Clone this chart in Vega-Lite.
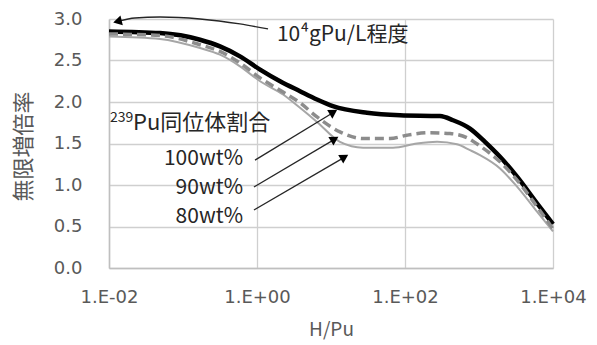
{
  "$schema": "https://vega.github.io/schema/vega-lite/v6.json",
  "width": 444,
  "height": 249,
  "autosize": {"type": "none"},
  "padding": {"left": 109, "top": 19, "right": 44, "bottom": 77},
  "background": "white",
  "config": {
    "view": {"stroke": null},
    "font": "Noto Sans CJK JP",
    "axis": {"labelFont": "DejaVu Sans", "titleFont": "Noto Sans CJK JP"}
  },
  "datasets": {
    "curves": [
      {"series": "100wt%", "HPu": 0.01, "k": 2.85},
      {"series": "100wt%", "HPu": 0.0489, "k": 2.83},
      {"series": "100wt%", "HPu": 0.170, "k": 2.75},
      {"series": "100wt%", "HPu": 0.316, "k": 2.67},
      {"series": "100wt%", "HPu": 0.589, "k": 2.55},
      {"series": "100wt%", "HPu": 1.10, "k": 2.39},
      {"series": "100wt%", "HPu": 2.05, "k": 2.25},
      {"series": "100wt%", "HPu": 3.81, "k": 2.13},
      {"series": "100wt%", "HPu": 6.47, "k": 2.03},
      {"series": "100wt%", "HPu": 10.6, "k": 1.95},
      {"series": "100wt%", "HPu": 30.6, "k": 1.87},
      {"series": "100wt%", "HPu": 85.5, "k": 1.84},
      {"series": "100wt%", "HPu": 297, "k": 1.83},
      {"series": "100wt%", "HPu": 446, "k": 1.78},
      {"series": "100wt%", "HPu": 755, "k": 1.68},
      {"series": "100wt%", "HPu": 1205, "k": 1.52},
      {"series": "100wt%", "HPu": 1923, "k": 1.34},
      {"series": "100wt%", "HPu": 3266, "k": 1.10},
      {"series": "100wt%", "HPu": 6081, "k": 0.78},
      {"series": "100wt%", "HPu": 10000, "k": 0.53},
      {"series": "90wt%", "HPu": 0.01, "k": 2.82},
      {"series": "90wt%", "HPu": 0.0489, "k": 2.80},
      {"series": "90wt%", "HPu": 0.170, "k": 2.69},
      {"series": "90wt%", "HPu": 0.316, "k": 2.61},
      {"series": "90wt%", "HPu": 0.589, "k": 2.47},
      {"series": "90wt%", "HPu": 1.10, "k": 2.29},
      {"series": "90wt%", "HPu": 2.25, "k": 2.12},
      {"series": "90wt%", "HPu": 3.81, "k": 1.99},
      {"series": "90wt%", "HPu": 6.47, "k": 1.82},
      {"series": "90wt%", "HPu": 13.2, "k": 1.64},
      {"series": "90wt%", "HPu": 27.1, "k": 1.56},
      {"series": "90wt%", "HPu": 62.7, "k": 1.56},
      {"series": "90wt%", "HPu": 106, "k": 1.60},
      {"series": "90wt%", "HPu": 218, "k": 1.63},
      {"series": "90wt%", "HPu": 406, "k": 1.62},
      {"series": "90wt%", "HPu": 689, "k": 1.57},
      {"series": "90wt%", "HPu": 1032, "k": 1.47},
      {"series": "90wt%", "HPu": 1923, "k": 1.28},
      {"series": "90wt%", "HPu": 3266, "k": 1.06},
      {"series": "90wt%", "HPu": 6081, "k": 0.74},
      {"series": "90wt%", "HPu": 10000, "k": 0.47},
      {"series": "80wt%", "HPu": 0.01, "k": 2.79},
      {"series": "80wt%", "HPu": 0.0489, "k": 2.76},
      {"series": "80wt%", "HPu": 0.170, "k": 2.65},
      {"series": "80wt%", "HPu": 0.316, "k": 2.57},
      {"series": "80wt%", "HPu": 0.589, "k": 2.43},
      {"series": "80wt%", "HPu": 1.10, "k": 2.25},
      {"series": "80wt%", "HPu": 2.25, "k": 2.09},
      {"series": "80wt%", "HPu": 3.81, "k": 1.93},
      {"series": "80wt%", "HPu": 6.47, "k": 1.76},
      {"series": "80wt%", "HPu": 13.2, "k": 1.52},
      {"series": "80wt%", "HPu": 27.1, "k": 1.45},
      {"series": "80wt%", "HPu": 68.9, "k": 1.45},
      {"series": "80wt%", "HPu": 145, "k": 1.50},
      {"series": "80wt%", "HPu": 271, "k": 1.52},
      {"series": "80wt%", "HPu": 504, "k": 1.49},
      {"series": "80wt%", "HPu": 755, "k": 1.42},
      {"series": "80wt%", "HPu": 1032, "k": 1.36},
      {"series": "80wt%", "HPu": 1923, "k": 1.20},
      {"series": "80wt%", "HPu": 3266, "k": 0.98},
      {"series": "80wt%", "HPu": 6081, "k": 0.68},
      {"series": "80wt%", "HPu": 10000, "k": 0.44}
    ],
    "arrows": [
      {"arrow": "a1", "HPu": 0.94, "k": 1.30},
      {"arrow": "a1", "HPu": 10.6, "k": 1.87},
      {"arrow": "a2", "HPu": 0.91, "k": 0.976},
      {"arrow": "a2", "HPu": 11.0, "k": 1.546},
      {"arrow": "a3", "HPu": 0.91, "k": 0.699},
      {"arrow": "a3", "HPu": 14.9, "k": 1.33},
      {"arrow": "top", "HPu": 1.41, "k": 2.88},
      {"arrow": "top", "HPu": 0.589, "k": 2.94},
      {"arrow": "top", "HPu": 0.170, "k": 3.00},
      {"arrow": "top", "HPu": 0.0489, "k": 3.024},
      {"arrow": "top", "HPu": 0.0224, "k": 3.012},
      {"arrow": "top", "HPu": 0.0135, "k": 2.975}
    ],
    "heads": [
      {"HPu": 10.8, "k": 1.878, "angle": 58.6},
      {"HPu": 11.2, "k": 1.554, "angle": 59.2},
      {"HPu": 15.2, "k": 1.337, "angle": 59.7},
      {"HPu": 0.0130, "k": 2.97, "angle": 256}
    ],
    "rightLabels": [
      {"HPu": 0.647, "k": 1.31, "text": "100wt%"},
      {"HPu": 0.647, "k": 0.96, "text": "90wt%"},
      {"HPu": 0.647, "k": 0.61, "text": "80wt%"}
    ],
    "leftLabels": [
      {"HPu": 1.86, "k": 2.81, "text": "10⁴gPu/L程度"}
    ],
    "isoLabel": [
      {"HPu": 0.0103, "k": 1.75, "sup": "239", "text": "Pu同位体割合"}
    ]
  },
  "encoding": {
    "x": {
      "field": "HPu",
      "type": "quantitative",
      "scale": {"type": "log", "domain": [0.01, 10000], "nice": false},
      "axis": {
        "title": "H/Pu",
        "values": [0.01, 1, 100, 10000],
        "labelExpr": "datum.value < 0.1 ? '1.E-02' : datum.value < 10 ? '1.E+00' : datum.value < 1000 ? '1.E+02' : '1.E+04'",
        "labelFontSize": 18,
        "labelColor": "#595959",
        "labelPadding": 20,
        "labelFlush": false,
        "ticks": false,
        "domainColor": "#bfbfbf",
        "domainWidth": 1.5,
        "gridColor": "#cfcfcf",
        "gridWidth": 1.3,
        "titleFontSize": 19,
        "titleFontWeight": "normal",
        "titleColor": "#595959",
        "titleY": 61,
        "titleBaseline": "middle"
      }
    },
    "y": {
      "field": "k",
      "type": "quantitative",
      "scale": {"domain": [0, 3], "nice": false},
      "axis": {
        "title": "無限増倍率",
        "values": [0, 0.5, 1, 1.5, 2, 2.5, 3],
        "format": ".1f",
        "labelFontSize": 18,
        "labelColor": "#595959",
        "labelPadding": 27,
        "ticks": false,
        "domainColor": "#bfbfbf",
        "domainWidth": 1.5,
        "gridColor": "#cfcfcf",
        "gridWidth": 1.3,
        "titleFontSize": 22,
        "titleFontWeight": "normal",
        "titleColor": "#595959",
        "titleX": -86,
        "titleY": 127,
        "titleAlign": "center",
        "titleBaseline": "middle"
      }
    }
  },
  "layer": [
    {
      "data": {"name": "curves"},
      "transform": [{"filter": "datum.series == '100wt%'"}],
      "mark": {"type": "line", "color": "#000000", "strokeWidth": 4.5, "interpolate": "monotone", "clip": false}
    },
    {
      "data": {"name": "curves"},
      "transform": [{"filter": "datum.series == '80wt%'"}],
      "mark": {"type": "line", "color": "#a6a6a6", "strokeWidth": 2, "interpolate": "monotone", "clip": false}
    },
    {
      "data": {"name": "curves"},
      "transform": [{"filter": "datum.series == '90wt%'"}],
      "mark": {"type": "line", "color": "#8c8c8c", "strokeWidth": 3.5, "strokeDash": [9, 5], "interpolate": "monotone", "clip": false}
    },
    {
      "data": {"name": "arrows"},
      "mark": {"type": "line", "color": "#262626", "strokeWidth": 1.3, "interpolate": "monotone", "clip": false},
      "encoding": {"detail": {"field": "arrow"}, "order": {"value": 0}}
    },
    {
      "data": {"name": "heads"},
      "mark": {"type": "point", "shape": "triangle-up", "filled": true, "color": "#000000", "size": 100, "opacity": 1, "clip": false},
      "encoding": {"angle": {"field": "angle", "type": "quantitative", "scale": null}}
    },
    {
      "data": {"name": "rightLabels"},
      "mark": {"type": "text", "fontSize": 21, "color": "#262626", "align": "right", "baseline": "middle", "clip": false},
      "encoding": {"text": {"field": "text"}}
    },
    {
      "data": {"name": "leftLabels"},
      "mark": {"type": "text", "fontSize": 21, "color": "#262626", "align": "left", "baseline": "middle", "clip": false},
      "encoding": {"text": {"field": "text"}}
    },
    {
      "data": {"name": "isoLabel"},
      "mark": {"type": "text", "fontSize": 14, "color": "#262626", "align": "left", "baseline": "middle", "dy": -5, "clip": false},
      "encoding": {"text": {"field": "sup"}}
    },
    {
      "data": {"name": "isoLabel"},
      "mark": {"type": "text", "fontSize": 22, "color": "#262626", "align": "left", "baseline": "middle", "dx": 23, "clip": false},
      "encoding": {"text": {"field": "text"}}
    }
  ]
}
